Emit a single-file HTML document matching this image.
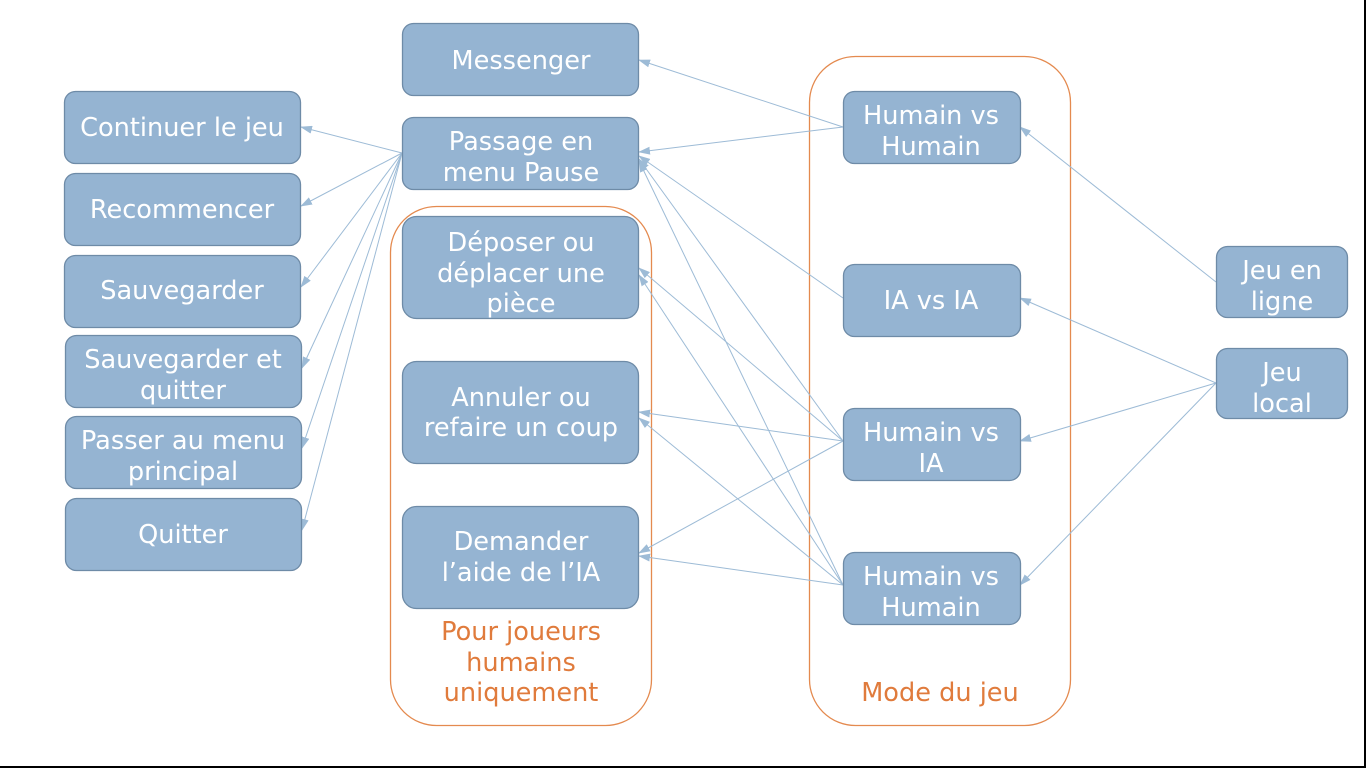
<!DOCTYPE html>
<html><head><meta charset="utf-8"><style>
html,body{margin:0;padding:0;background:#fff;width:1366px;height:768px;overflow:hidden}
svg{display:block}
.b{fill:#95b4d2;stroke:#6e8ba7;stroke-width:1.3}
.t{fill:#fff;font-family:"DejaVu Sans","Liberation Sans",sans-serif;font-size:25.6px;text-anchor:middle}
.o{fill:none;stroke:#e48a4f;stroke-width:1.3}
.ot{fill:#e07b3c;font-family:"DejaVu Sans","Liberation Sans",sans-serif;font-size:25.6px;text-anchor:middle}
.l{stroke:#9dbbd6;stroke-width:1;fill:none;marker-end:url(#a)}
</style></head><body>
<svg width="1366" height="768" viewBox="0 0 1366 768">
<defs><marker id="a" markerWidth="12" markerHeight="8" refX="11" refY="4" orient="auto" markerUnits="userSpaceOnUse"><path d="M0,0 L12,4 L0,8 z" fill="#9dbbd6"/></marker></defs>
<rect x="1364" y="0" width="2" height="768" fill="#000"/>
<rect x="0" y="766" width="1366" height="2" fill="#000"/>
<rect class="o" x="390.5" y="206.5" width="261" height="519" rx="46"/>
<rect class="o" x="809.5" y="56.5" width="261" height="669" rx="46"/>
<text class="ot" x="521" y="640">Pour joueurs</text>
<text class="ot" x="521" y="671">humains</text>
<text class="ot" x="521" y="701">uniquement</text>
<text class="ot" x="940" y="701">Mode du jeu</text>
<line class="l" x1="402" y1="153" x2="301" y2="127"/>
<line class="l" x1="402" y1="153" x2="301" y2="206"/>
<line class="l" x1="402" y1="153" x2="301" y2="287"/>
<line class="l" x1="402" y1="153" x2="302" y2="368"/>
<line class="l" x1="402" y1="153" x2="302" y2="448"/>
<line class="l" x1="402" y1="153" x2="302" y2="530"/>
<line class="l" x1="843" y1="127" x2="639" y2="60"/>
<line class="l" x1="843" y1="127" x2="639" y2="152"/>
<line class="l" x1="843" y1="298" x2="639" y2="156"/>
<line class="l" x1="843" y1="441" x2="639" y2="159"/>
<line class="l" x1="843" y1="441" x2="639" y2="268"/>
<line class="l" x1="843" y1="441" x2="639" y2="412"/>
<line class="l" x1="843" y1="441" x2="639" y2="553"/>
<line class="l" x1="843" y1="585" x2="639" y2="161"/>
<line class="l" x1="843" y1="585" x2="639" y2="275"/>
<line class="l" x1="843" y1="585" x2="639" y2="418"/>
<line class="l" x1="843" y1="585" x2="639" y2="556"/>
<line class="l" x1="1216" y1="282" x2="1020" y2="127"/>
<line class="l" x1="1216" y1="383" x2="1020" y2="298"/>
<line class="l" x1="1216" y1="383" x2="1020" y2="441"/>
<line class="l" x1="1216" y1="383" x2="1020" y2="585"/>
<rect class="b" x="402.5" y="23.5" width="236" height="72" rx="11"/><text class="t" x="521" y="69">Messenger</text>
<rect class="b" x="402.5" y="117.5" width="236" height="72" rx="11"/><text class="t" x="521" y="150">Passage en</text><text class="t" x="521" y="181">menu Pause</text>
<rect class="b" x="64.5" y="91.5" width="236" height="72" rx="11"/><text class="t" x="182" y="136">Continuer le jeu</text>
<rect class="b" x="64.5" y="173.5" width="236" height="72" rx="11"/><text class="t" x="182" y="218">Recommencer</text>
<rect class="b" x="64.5" y="255.5" width="236" height="72" rx="11"/><text class="t" x="182" y="299">Sauvegarder</text>
<rect class="b" x="65.5" y="335.5" width="236" height="72" rx="11"/><text class="t" x="183" y="368">Sauvegarder et</text><text class="t" x="183" y="399">quitter</text>
<rect class="b" x="65.5" y="416.5" width="236" height="72" rx="11"/><text class="t" x="183" y="449">Passer au menu</text><text class="t" x="183" y="480">principal</text>
<rect class="b" x="65.5" y="498.5" width="236" height="72" rx="11"/><text class="t" x="183" y="543">Quitter</text>
<rect class="b" x="402.5" y="216.5" width="236" height="102" rx="14"/><text class="t" x="521" y="251">Déposer ou</text><text class="t" x="521" y="282">déplacer une</text><text class="t" x="521" y="312">pièce</text>
<rect class="b" x="402.5" y="361.5" width="236" height="102" rx="14"/><text class="t" x="521" y="406">Annuler ou</text><text class="t" x="521" y="436">refaire un coup</text>
<rect class="b" x="402.5" y="506.5" width="236" height="102" rx="14"/><text class="t" x="521" y="550">Demander</text><text class="t" x="521" y="581">l’aide de l’IA</text>
<rect class="b" x="843.5" y="91.5" width="177" height="72" rx="11"/><text class="t" x="931" y="124">Humain vs</text><text class="t" x="931" y="155">Humain</text>
<rect class="b" x="843.5" y="264.5" width="177" height="72" rx="11"/><text class="t" x="931" y="309">IA vs IA</text>
<rect class="b" x="843.5" y="408.5" width="177" height="72" rx="11"/><text class="t" x="931" y="441">Humain vs</text><text class="t" x="931" y="472">IA</text>
<rect class="b" x="843.5" y="552.5" width="177" height="72" rx="11"/><text class="t" x="931" y="585">Humain vs</text><text class="t" x="931" y="616">Humain</text>
<rect class="b" x="1216.5" y="246.5" width="131" height="71" rx="11"/><text class="t" x="1282" y="279">Jeu en</text><text class="t" x="1282" y="310">ligne</text>
<rect class="b" x="1216.5" y="348.5" width="131" height="70" rx="11"/><text class="t" x="1282" y="381">Jeu</text><text class="t" x="1282" y="412">local</text>
</svg>
</body></html>
